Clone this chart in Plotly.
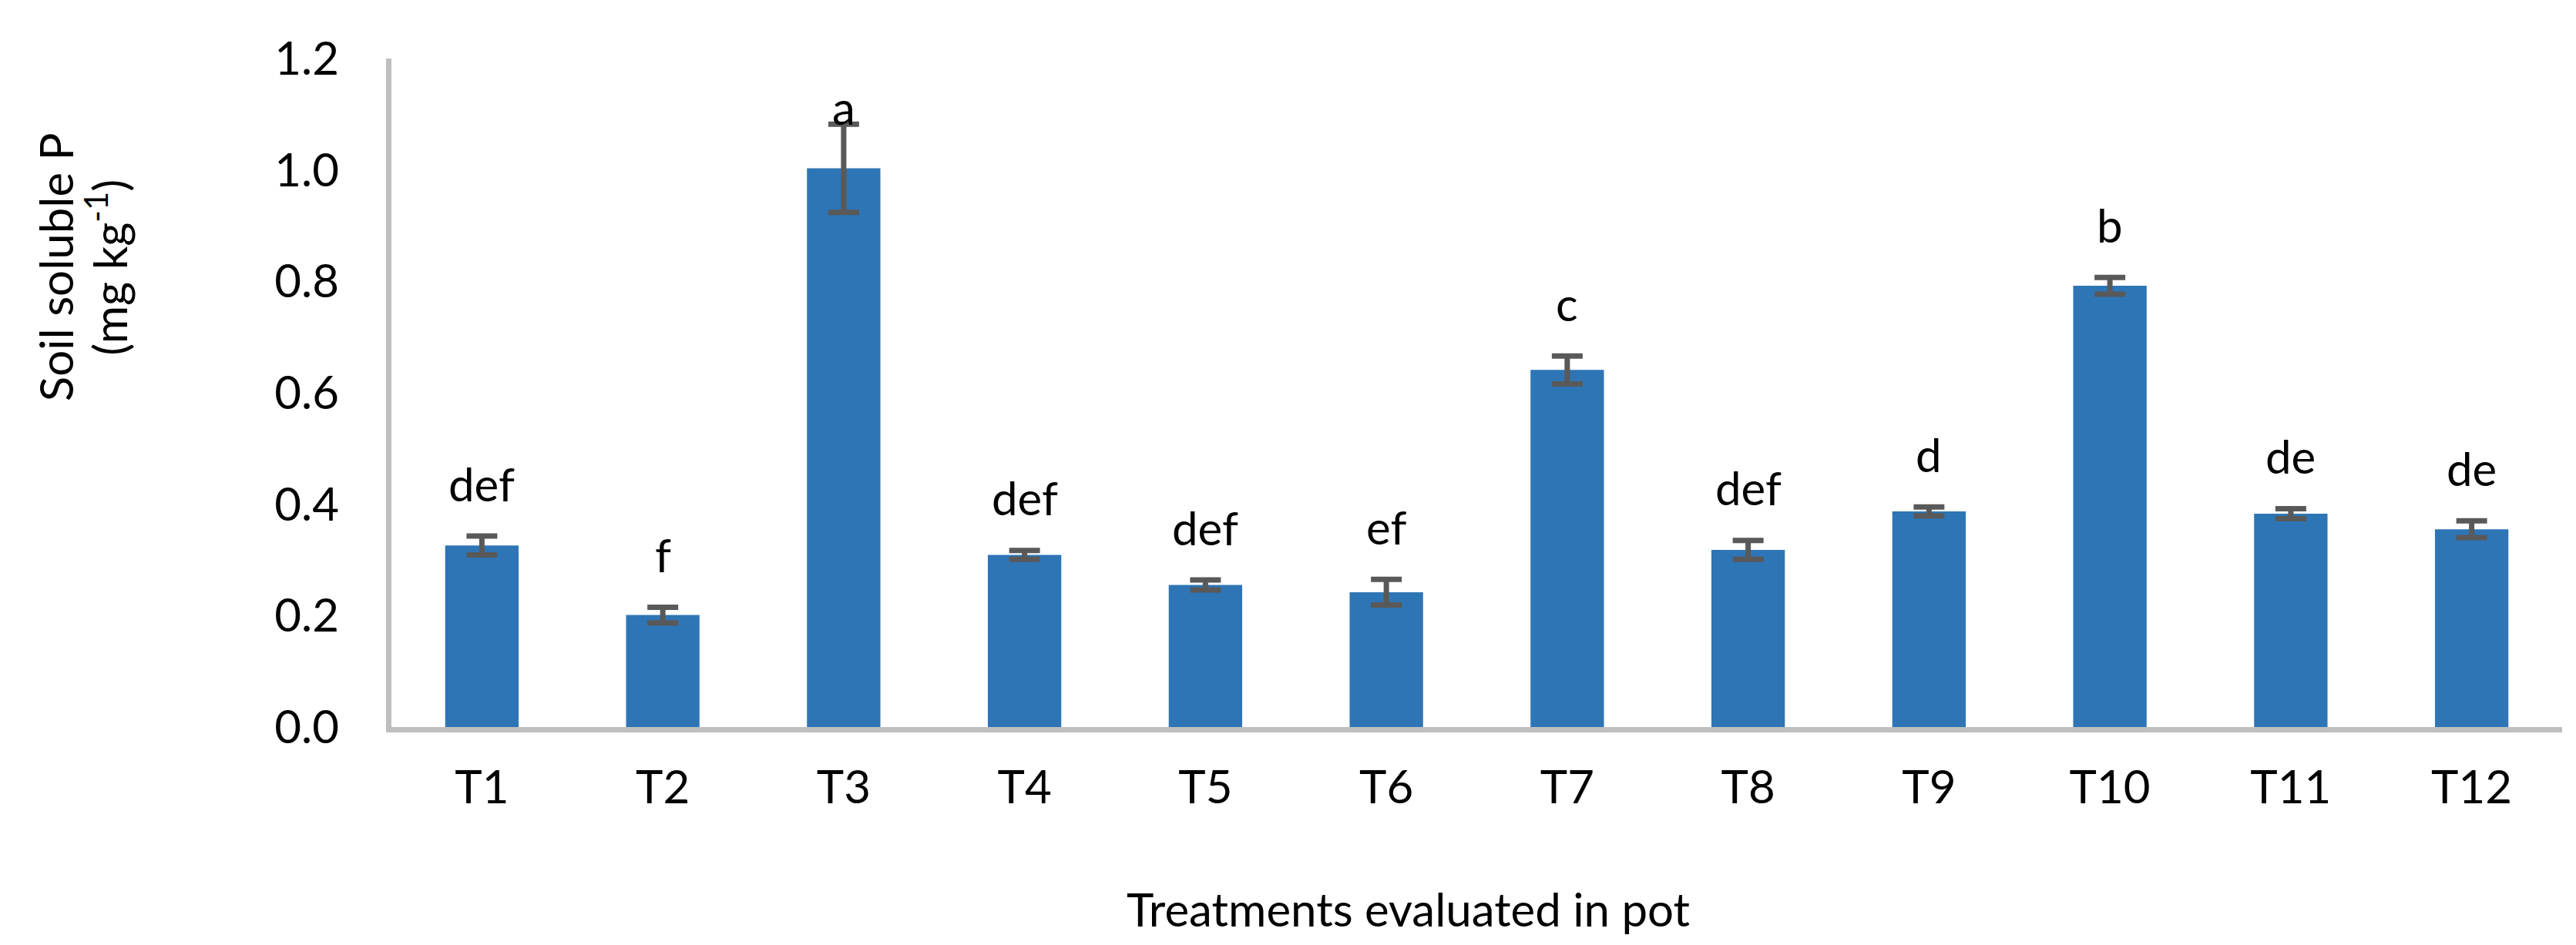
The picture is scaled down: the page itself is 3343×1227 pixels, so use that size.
import plotly.graph_objects as go

treatments = ["T1", "T2", "T3", "T4", "T5", "T6", "T7", "T8", "T9", "T10", "T11", "T12"]
soluble_p = [0.326, 0.201, 1.003, 0.309, 0.255, 0.242, 0.641, 0.318, 0.387, 0.792, 0.383, 0.355]
std_err = [0.017, 0.014, 0.079, 0.008, 0.009, 0.023, 0.025, 0.017, 0.008, 0.015, 0.009, 0.015]
letters = ["def", "f", "a", "def", "def", "ef", "c", "def", "d", "b", "de", "de"]
y_ticks = [0.0, 0.2, 0.4, 0.6, 0.8, 1.0, 1.2]

FONT = "Lato"
FS = 60

fig = go.Figure()
fig.add_trace(go.Bar(
    x=treatments, y=soluble_p,
    marker=dict(color="#2E75B6", line=dict(width=0)),
    error_y=dict(type="data", array=std_err, visible=True,
                 color="#595959", thickness=7, width=20),
))

for t, v, e, lab in zip(treatments, soluble_p, std_err, letters):
    fig.add_annotation(x=t, y=min(v + e + 0.042, 1.06), text=lab, showarrow=False,
                       xanchor="center", yanchor="bottom",
                       font=dict(family=FONT, size=FS, color="#000000"))

fig.add_annotation(xref="paper", yref="paper", x=-0.155, y=0.688,
                   text="Soil soluble P", textangle=-90, showarrow=False,
                   xanchor="center", yanchor="middle",
                   font=dict(family=FONT, size=FS, color="#000000"))
fig.add_annotation(xref="paper", yref="paper", x=-0.131, y=0.688,
                   text="(mg kg<sup>-1</sup>)", textangle=-90, showarrow=False,
                   xanchor="center", yanchor="middle",
                   font=dict(family=FONT, size=FS, color="#000000"))
fig.add_annotation(xref="paper", yref="paper", x=0.4685, y=-0.272,
                   text="Treatments evaluated in pot", showarrow=False,
                   xanchor="center", yanchor="middle",
                   font=dict(family=FONT, size=FS, color="#000000"))

fig.update_layout(
    width=3343, height=1227,
    margin=dict(l=500, r=26, t=68, b=291),
    paper_bgcolor="white", plot_bgcolor="white",
    bargap=0.594, showlegend=False,
    font=dict(family=FONT, size=FS, color="#000000"),
)
fig.update_xaxes(showline=True, linecolor="#BFBFBF", linewidth=7,
                 showgrid=False, ticks="", ticklabelstandoff=20,
                 tickfont=dict(family=FONT, size=FS, color="#000000"))
fig.update_yaxes(range=[0, 1.2], tickvals=y_ticks, tickformat=".1f",
                 showline=True, linecolor="#BFBFBF", linewidth=7,
                 showgrid=False, zeroline=False, ticks="", ticklabelstandoff=49,
                 tickfont=dict(family=FONT, size=FS, color="#000000"))

fig.write_html("out.html")
